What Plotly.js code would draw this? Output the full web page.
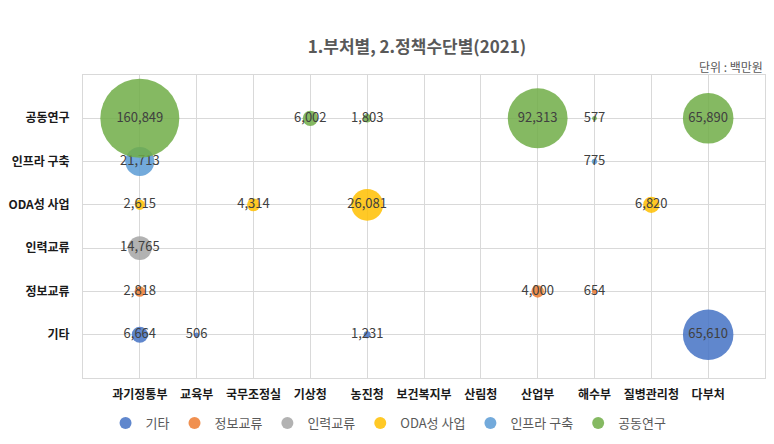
<!DOCTYPE html>
<html>
<head>
<meta charset="utf-8">
<script src="https://cdn.plot.ly/plotly-3.0.1.min.js"></script>
<style>html,body{margin:0;padding:0;background:#fff;}#chart{width:774px;height:444px;}</style>
</head>
<body>
<div id="chart"></div>
<script>
// Categories
const ministries = ['과기정통부','교육부','국무조정실','기상청','농진청','보건복지부','산림청','산업부','해수부','질병관리청','다부처'];
const policyTypes = ['기타','정보교류','인력교류','ODA성 사업','인프라 구축','공동연구'];

// Series (ministry, value)
const etcMinistries = ['과기정통부','교육부','농진청','다부처'];
const etcValues = [6664, 506, 1231, 65610];

const infoMinistries = ['과기정통부','산업부','해수부'];
const infoValues = [2818, 4000, 654];

const staffMinistries = ['과기정통부'];
const staffValues = [14765];

const odaMinistries = ['과기정통부','국무조정실','농진청','질병관리청'];
const odaValues = [2615, 4314, 26081, 6820];

const infraMinistries = ['과기정통부','해수부'];
const infraValues = [21713, 775];

const jointMinistries = ['과기정통부','기상청','농진청','산업부','해수부','다부처'];
const jointValues = [160849, 6002, 1803, 92313, 577, 65890];

const seriesNames = ['기타','정보교류','인력교류','ODA성 사업','인프라 구축','공동연구'];
const seriesColors = ['#4472C4','#ED7D31','#A5A5A5','#FFC000','#5B9BD5','#70AD47'];
const seriesX = [etcMinistries, infoMinistries, staffMinistries, odaMinistries, infraMinistries, jointMinistries];
const seriesV = [etcValues, infoValues, staffValues, odaValues, infraValues, jointValues];

const maxVal = Math.max(...seriesV.flat());
const maxDiameter = 79;
const sizeref = 2 * maxVal / (maxDiameter * maxDiameter);

const fontFamily = '"Noto Sans CJK KR", "Noto Sans", sans-serif';

const traces = seriesNames.map((name, i) => ({
  type: 'scatter',
  mode: 'markers+text',
  name: name,
  x: seriesX[i],
  y: seriesX[i].map(() => name),
  text: seriesV[i].map(v => v.toLocaleString('en-US')),
  textposition: 'middle center',
  textfont: {family: fontFamily, size: 13, color: '#404040'},
  marker: {
    size: seriesV[i],
    sizemode: 'area',
    sizeref: sizeref,
    sizemin: 2,
    color: seriesColors[i],
    opacity: 0.85,
    line: {width: 0}
  },
  cliponaxis: false,
  hoverinfo: 'skip'
}));

const layout = {
  width: 774,
  height: 444,
  margin: {l: 83, r: 9, t: 75, b: 66},
  paper_bgcolor: '#ffffff',
  plot_bgcolor: '#ffffff',
  font: {family: fontFamily, color: '#595959'},
  title: {
    text: '1.부처별, 2.정책수단별(2021)',
    font: {family: fontFamily, size: 17, color: '#595959', weight: 'bold'},
    x: 417/774, xref: 'container', xanchor: 'center',
    y: 1 - 47/444, yref: 'container', yanchor: 'middle'
  },
  xaxis: {
    type: 'category',
    categoryorder: 'array',
    categoryarray: ministries,
    range: [-1, ministries.length],
    showgrid: true,
    gridcolor: '#D9D9D9',
    gridwidth: 1,
    showline: true,
    linecolor: '#D9D9D9',
    linewidth: 1,
    mirror: true,
    zeroline: false,
    ticks: '',
    tickfont: {family: fontFamily, size: 12, color: '#1a1a1a', weight: 'bold'},
    ticklabelstandoff: 6,
    fixedrange: true
  },
  yaxis: {
    type: 'category',
    categoryorder: 'array',
    categoryarray: policyTypes,
    range: [-1, policyTypes.length],
    showgrid: true,
    gridcolor: '#D9D9D9',
    gridwidth: 1,
    showline: true,
    linecolor: '#D9D9D9',
    linewidth: 1,
    mirror: true,
    zeroline: false,
    ticks: '',
    tickfont: {family: fontFamily, size: 12, color: '#1a1a1a', weight: 'bold'},
    ticklabelstandoff: 10,
    fixedrange: true
  },
  showlegend: true,
  legend: {
    orientation: 'h',
    x: 0.448, xanchor: 'center',
    y: 1 - 423/444, yref: 'container', yanchor: 'middle',
    font: {family: fontFamily, size: 13, color: '#595959'},
    itemsizing: 'constant',
    itemwidth: 30,
    tracegroupgap: 0
  },
  annotations: [{
    text: '단위 : 백만원',
    xref: 'paper', yref: 'paper',
    x: 1, y: (378 - 66) / 303,
    xanchor: 'right', yanchor: 'middle',
    showarrow: false,
    font: {family: fontFamily, size: 12, color: '#595959'}
  }]
};

Plotly.newPlot('chart', traces, layout, {staticPlot: true, displayModeBar: false});
</script>
</body>
</html>
